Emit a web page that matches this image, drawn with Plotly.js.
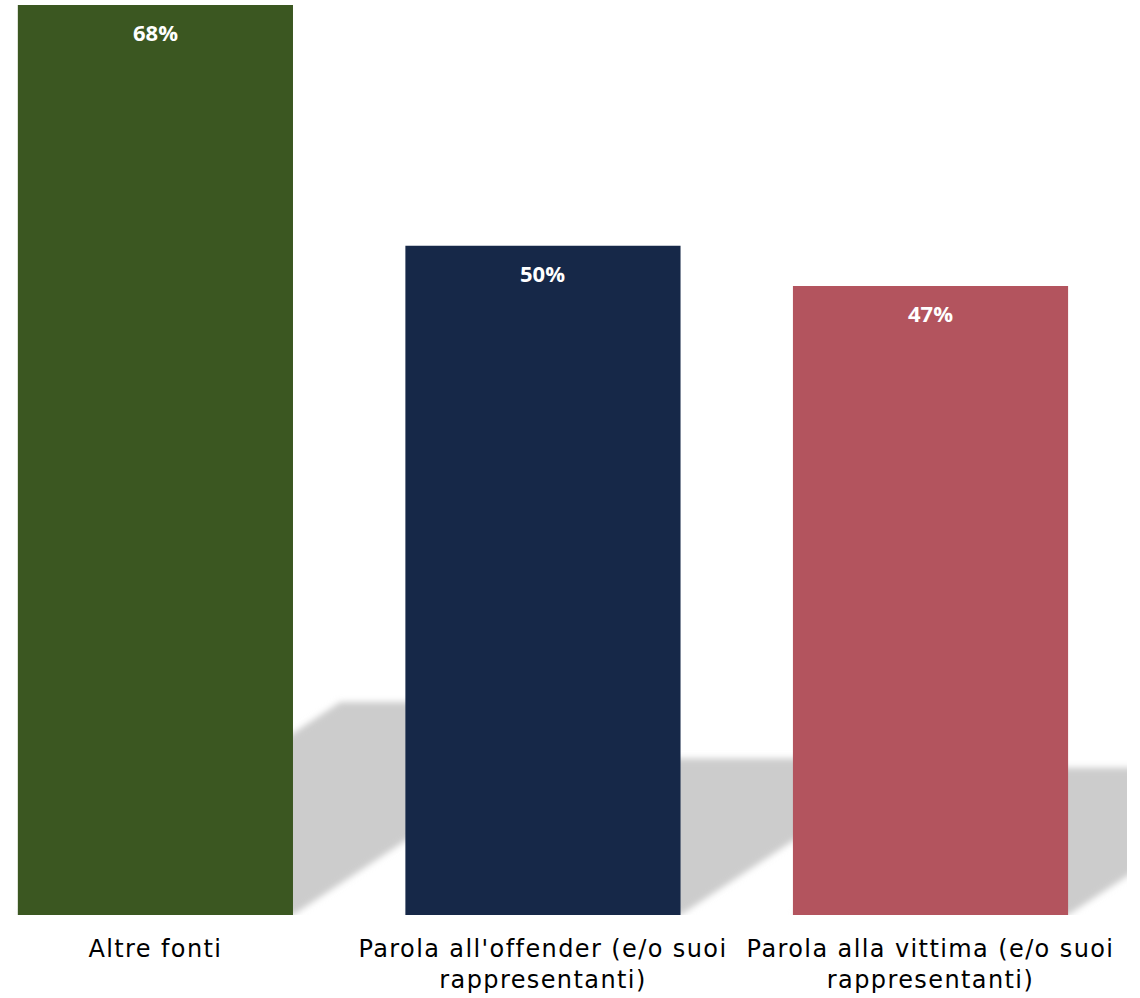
<!DOCTYPE html>
<html>
<head>
<meta charset="utf-8">
<script src="https://cdn.plot.ly/plotly-3.0.1.min.js"></script>
<style>
  html, body { margin: 0; padding: 0; background: #ffffff; }
  #chart { width: 1140px; height: 998px; }
  .xtick text { letter-spacing: 1.4px; }
</style>
</head>
<body>
<div id="chart"></div>
<script>
// ---- data ----
const categories = [
  "Altre fonti",
  "Parola all'offender (e/o suoi<br>rappresentanti)",
  "Parola alla vittima (e/o suoi<br>rappresentanti)"
];
const values = [68, 50, 47];
const barColors = ["#3B5721", "#162848", "#B3545E"];

// ---- build ----
const xs = values.map((v, i) => i);
const halfW = 0.355;

const trace = {
  type: 'bar',
  x: xs,
  y: values,
  width: halfW * 2,
  marker: { color: barColors, line: { width: 0 } },
  hoverinfo: 'none'
};

// perspective shadows derived from each bar's value
const shapes = values.map((v, i) => {
  const h = 0.234 * v;
  const s = 0.01224 * v;
  const xl = i - halfW, xr = i + halfW;
  return {
    type: 'path',
    xref: 'x', yref: 'y',
    layer: 'below',
    path: `M ${xl},0 L ${xr},0 L ${xr + s},${h} L ${xl + s},${h} Z`,
    fillcolor: '#CCCCCC',
    line: { width: 0 }
  };
});

const annotations = values.map((v, i) => ({
  x: i, y: v, xref: 'x', yref: 'y',
  text: '<b>' + v + '%</b>',
  showarrow: false,
  yanchor: 'top',
  yshift: -10,
  font: { family: 'Open Sans, sans-serif', size: 22, color: '#FFFFFF' }
}));

const layout = {
  width: 1140,
  height: 998,
  margin: { l: 0, r: 13, t: 0, b: 83 },
  paper_bgcolor: '#FFFFFF',
  plot_bgcolor: '#FFFFFF',
  showlegend: false,
  xaxis: {
    range: [-0.401, 2.507],
    tickvals: xs,
    ticktext: categories,
    showgrid: false,
    zeroline: false,
    showline: false,
    ticks: 'outside',
    ticklen: 12,
    tickcolor: 'rgba(0,0,0,0)',
    tickfont: { family: 'DejaVu Sans, sans-serif', size: 24, color: '#000000' },
    fixedrange: true
  },
  yaxis: {
    range: [0, 68.37],
    visible: false,
    showgrid: false,
    zeroline: false,
    fixedrange: true
  },
  shapes: shapes,
  annotations: annotations
};

Plotly.newPlot('chart', [trace], layout, { staticPlot: true, displayModeBar: false }).then(gd => {
  const svg = gd.querySelector('svg.main-svg');
  const ns = 'http://www.w3.org/2000/svg';
  let defs = svg.querySelector('defs');
  if (!defs) { defs = document.createElementNS(ns, 'defs'); svg.insertBefore(defs, svg.firstChild); }
  const f = document.createElementNS(ns, 'filter');
  f.setAttribute('id', 'shadowBlur');
  f.setAttribute('x', '-10%'); f.setAttribute('y', '-10%');
  f.setAttribute('width', '120%'); f.setAttribute('height', '120%');
  const b = document.createElementNS(ns, 'feGaussianBlur');
  b.setAttribute('stdDeviation', '3');
  f.appendChild(b);
  defs.appendChild(f);
  gd.querySelectorAll('.shapelayer path').forEach(p => p.setAttribute('filter', 'url(#shadowBlur)'));
});
</script>
</body>
</html>
